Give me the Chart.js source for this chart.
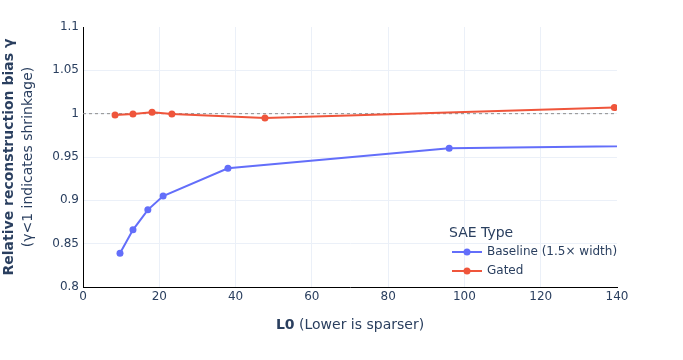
<!DOCTYPE html>
<html>
<head>
<meta charset="utf-8">
<script src="https://cdn.jsdelivr.net/npm/chart.js@4"></script>
<style>
  html, body { margin: 0; padding: 0; background: #fff; }
  #wrap { width: 683px; height: 360px; position: relative; }
</style>
</head>
<body>
<div id="wrap"><canvas id="biasChart"></canvas></div>
<script>
// Données
const baselineL0 = [9.7, 13.1, 17.0, 21.0, 38.0, 96.0, 190];
const baselineGamma = [0.839, 0.866, 0.889, 0.905, 0.937, 0.960, 0.965];
const gatedL0 = [8.4, 13.1, 18.1, 23.3, 47.7, 139.3];
const gatedGamma = [0.9985, 0.9995, 1.0015, 0.9995, 0.995, 1.007];
const seriesNames = ['Baseline (1.5× width)', 'Gated'];
const seriesColors = ['#636efa', '#EF553B'];
const refGamma = 1;
const xTicks = [0, 20, 40, 60, 80, 100, 120, 140];
const yTicks = [0.8, 0.85, 0.9, 0.95, 1, 1.05, 1.1];

const FONT = '"DejaVu Sans", Verdana, sans-serif';
const TEXT = '#2a3f5f';
const GRID = '#ebf0f8';

const toPoints = (xs, ys) => xs.map((x, i) => ({ x: x, y: ys[i] }));
// pas de grille sur le dernier tick (bord du graphique)
const gridColor = ticks => c => (c.index === ticks.length - 1 ? 'rgba(0,0,0,0)' : GRID);

// Titres des axes et légende dessinés à la main
const extrasPlugin = {
  id: 'extras',
  afterDraw(chart) {
    const ctx = chart.ctx;
    const area = chart.chartArea;
    ctx.save();
    ctx.fillStyle = TEXT;
    ctx.textBaseline = 'middle';

    // titre axe Y (deux lignes)
    const cy = (area.top + area.bottom) / 2;
    ctx.save();
    ctx.translate(9, cy);
    ctx.rotate(-Math.PI / 2);
    ctx.textAlign = 'center';
    ctx.font = 'bold 14px ' + FONT;
    ctx.fillText('Relative reconstruction bias γ', 0, 0);
    ctx.translate(0, 19);
    ctx.font = '14px ' + FONT;
    ctx.fillText('(γ<1 indicates shrinkage)', 0, 0);
    ctx.restore();

    // titre axe X
    const boldPart = 'L0';
    const normPart = ' (Lower is sparser)';
    ctx.font = 'bold 14px ' + FONT;
    const w1 = ctx.measureText(boldPart).width;
    ctx.font = '14px ' + FONT;
    const w2 = ctx.measureText(normPart).width;
    const cx = (area.left + area.right) / 2;
    let x0 = cx - (w1 + w2) / 2;
    ctx.textAlign = 'left';
    ctx.font = 'bold 14px ' + FONT;
    ctx.fillText(boldPart, x0, 325);
    ctx.font = '14px ' + FONT;
    ctx.fillText(normPart, x0 + w1, 325);

    // légende
    ctx.font = '14px ' + FONT;
    ctx.fillText('SAE Type', 449, 233);
    ctx.font = '12px ' + FONT;
    seriesNames.forEach((name, i) => {
      const y = 252 + i * 19;
      ctx.strokeStyle = seriesColors[i];
      ctx.lineWidth = 2;
      ctx.beginPath();
      ctx.moveTo(452, y);
      ctx.lineTo(482, y);
      ctx.stroke();
      ctx.fillStyle = seriesColors[i];
      ctx.beginPath();
      ctx.arc(467, y, 3.5, 0, Math.PI * 2);
      ctx.fill();
      ctx.fillStyle = TEXT;
      ctx.fillText(name, 487, y);
    });
    ctx.restore();
  }
};

new Chart(document.getElementById('biasChart'), {
  type: 'line',
  data: {
    datasets: [
      {
        label: 'ref',
        data: toPoints([xTicks[0], xTicks[xTicks.length - 1]], [refGamma, refGamma]),
        borderColor: '#8c8c8c',
        borderWidth: 1,
        borderDash: [3, 3],
        pointRadius: 0,
        order: 3
      },
      {
        label: seriesNames[0],
        data: toPoints(baselineL0, baselineGamma),
        borderColor: seriesColors[0],
        backgroundColor: seriesColors[0],
        borderWidth: 2,
        pointRadius: 3.5,
        pointBorderWidth: 0,
        order: 2
      },
      {
        label: seriesNames[1],
        data: toPoints(gatedL0, gatedGamma),
        borderColor: seriesColors[1],
        backgroundColor: seriesColors[1],
        borderWidth: 2,
        pointRadius: 3.5,
        pointBorderWidth: 0,
        order: 1
      }
    ]
  },
  options: {
    responsive: true,
    maintainAspectRatio: false,
    animation: false,
    layout: { padding: { top: 27, right: 66, left: 0, bottom: 0 } },
    plugins: {
      legend: { display: false },
      tooltip: { enabled: false }
    },
    scales: {
      x: {
        type: 'linear',
        min: xTicks[0],
        max: xTicks[xTicks.length - 1],
        afterBuildTicks: s => { s.ticks = xTicks.map(v => ({ value: v })); },
        afterFit: s => { s.height = 73; },
        grid: { color: gridColor(xTicks), drawTicks: false },
        border: { color: '#000', width: 1 },
        ticks: { color: TEXT, font: { size: 12, family: FONT }, padding: 3, maxRotation: 0 }
      },
      y: {
        min: yTicks[0],
        max: yTicks[yTicks.length - 1],
        afterBuildTicks: s => { s.ticks = yTicks.map(v => ({ value: v })); },
        afterFit: s => { s.width = 83; },
        grid: { color: gridColor(yTicks), drawTicks: false },
        border: { color: '#000', width: 1 },
        ticks: {
          color: TEXT,
          font: { size: 12, family: FONT },
          padding: 4,
          callback: v => String(parseFloat(v.toFixed(2)))
        }
      }
    }
  },
  plugins: [extrasPlugin]
});
</script>
</body>
</html>
